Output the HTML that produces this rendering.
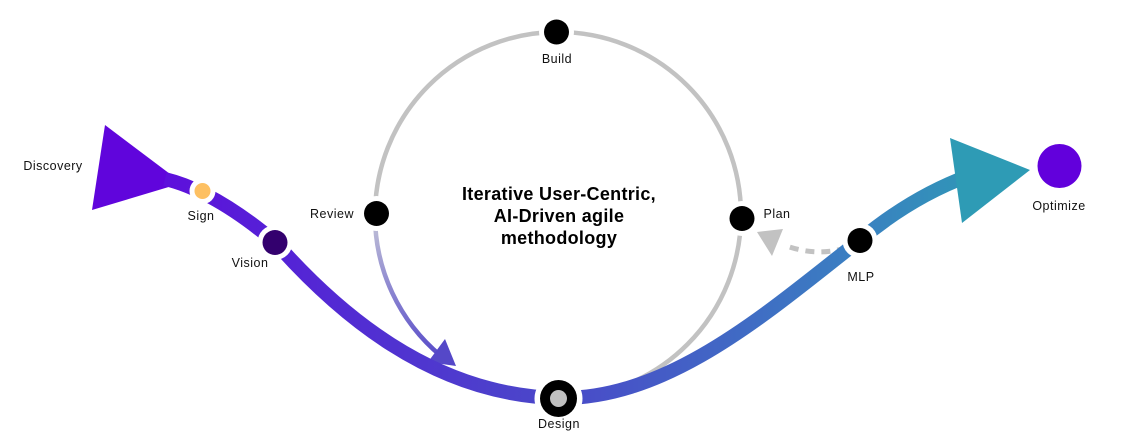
<!DOCTYPE html>
<html>
<head>
<meta charset="utf-8">
<style>
html,body{margin:0;padding:0;background:#fff;}
svg{display:block;}
.lbl{font-family:"Liberation Sans",sans-serif;font-size:12.5px;letter-spacing:0.5px;fill:#111;}
.ttl{font-family:"Liberation Sans",sans-serif;font-size:18px;letter-spacing:0.3px;font-weight:bold;fill:#000;}
</style>
</head>
<body>
<svg width="1122" height="440" viewBox="0 0 1122 440" xmlns="http://www.w3.org/2000/svg">
  <defs>
    <linearGradient id="main" gradientUnits="userSpaceOnUse" x1="160" y1="0" x2="1000" y2="0">
      <stop offset="0" stop-color="#5e0edc"/>
      <stop offset="0.14" stop-color="#5522d6"/>
      <stop offset="0.47" stop-color="#4a48c9"/>
      <stop offset="0.83" stop-color="#3a80c1"/>
      <stop offset="1" stop-color="#2e9bb5"/>
    </linearGradient>
    <linearGradient id="rev" gradientUnits="userSpaceOnUse" x1="0" y1="225" x2="0" y2="360">
      <stop offset="0" stop-color="#bdbdd6"/>
      <stop offset="0.5" stop-color="#8a84d0"/>
      <stop offset="1" stop-color="#5548c8"/>
    </linearGradient>
  </defs>

  <!-- gray circle (left top -> right -> bottom) -->
  <path d="M 375 215 A 183 183 0 1 1 558 398" fill="none" stroke="#c2c2c2" stroke-width="4.5"/>
  <!-- review gradient arc -->
  <path d="M 375 215 A 183 183 0 0 0 441 356" fill="none" stroke="url(#rev)" stroke-width="4.5"/>
  <polygon points="445,339 456,366 428,362" fill="#5548c8"/>

  <!-- dashed feedback arrow MLP -> Plan -->
  <path d="M 846 248 Q 815 257 784 245" fill="none" stroke="#c2c2c2" stroke-width="5" stroke-dasharray="9,7"/>
  <polygon points="757,232 783,229 772,256" fill="#c2c2c2"/>

  <!-- discovery triangle -->
  <polygon points="105,125 92,210 182,183" fill="#6005dc"/>

  <!-- main path -->
  <path d="M 165 179 C 190 185, 225 200, 275 242 C 335 310, 430 395, 558 398 C 670 400, 770 310, 860 240 C 890 215, 925 192, 968 176"
        fill="none" stroke="url(#main)" stroke-width="14"/>

  <!-- teal arrowhead -->
  <polygon points="950,138 1030,170 962,223" fill="#2e9bb5"/>

  <!-- optimize -->
  <circle cx="1059.5" cy="166" r="22" fill="#6200dc"/>

  <!-- nodes: white halos -->
  <circle cx="202.5" cy="191" r="13" fill="#fff"/>
  <circle cx="275" cy="242.5" r="17.5" fill="#fff"/>
  <circle cx="376.5" cy="213.5" r="17.5" fill="#fff"/>
  <circle cx="556.5" cy="32" r="17.5" fill="#fff"/>
  <circle cx="742" cy="218.5" r="17.5" fill="#fff"/>
  <circle cx="860" cy="240.5" r="17.5" fill="#fff"/>
  <circle cx="558.5" cy="398.5" r="24" fill="#fff"/>

  <!-- nodes -->
  <circle cx="202.5" cy="191" r="8" fill="#fdc062"/>
  <circle cx="275" cy="242.5" r="12.5" fill="#33006e"/>
  <circle cx="376.5" cy="213.5" r="12.5" fill="#000"/>
  <circle cx="556.5" cy="32" r="12.5" fill="#000"/>
  <circle cx="742" cy="218.5" r="12.5" fill="#000"/>
  <circle cx="860" cy="240.5" r="12.5" fill="#000"/>
  <circle cx="558.5" cy="398.5" r="18.5" fill="#000"/>
  <circle cx="558.5" cy="398.5" r="8.5" fill="#c0c0c0"/>

  <!-- labels -->
  <text class="lbl" x="53" y="170" text-anchor="middle">Discovery</text>
  <text class="lbl" x="201" y="220" text-anchor="middle">Sign</text>
  <text class="lbl" x="250" y="267" text-anchor="middle">Vision</text>
  <text class="lbl" x="332" y="218" text-anchor="middle">Review</text>
  <text class="lbl" x="557" y="63" text-anchor="middle">Build</text>
  <text class="lbl" x="777" y="218" text-anchor="middle">Plan</text>
  <text class="lbl" x="861" y="281" text-anchor="middle">MLP</text>
  <text class="lbl" x="559" y="428" text-anchor="middle">Design</text>
  <text class="lbl" x="1059" y="210" text-anchor="middle">Optimize</text>

  <text class="ttl" x="559" y="200" text-anchor="middle">Iterative User-Centric,</text>
  <text class="ttl" x="559" y="222" text-anchor="middle">AI-Driven agile</text>
  <text class="ttl" x="559" y="244" text-anchor="middle">methodology</text>
</svg>
</body>
</html>
